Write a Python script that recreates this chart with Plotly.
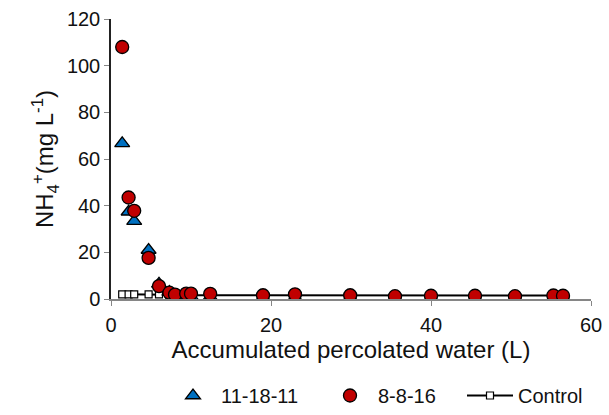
import plotly.graph_objects as go

x_vals = [1.4, 2.2, 2.9, 4.7, 6.0, 7.3, 8.0, 9.4, 10.0, 12.4, 19.0, 23.0, 29.9, 35.5, 40.0, 45.5, 50.5, 55.3, 56.5]
s_111811 = [66.7, 37.4, 33.4, 21.0, 6.5, 3.0, 1.2, 1.0, 1.0, 0.8, 0.6, 0.6, 0.6, 0.5, 0.5, 0.5, 0.5, 0.5, 0.5]
s_8816 = [108.0, 43.5, 37.8, 17.6, 5.5, 2.7, 1.9, 2.3, 2.3, 2.2, 1.6, 2.0, 1.6, 1.2, 1.4, 1.4, 1.2, 1.5, 1.4]
s_control = [2.0, 2.0, 2.0, 2.0, 2.0, 1.8, 1.6, 1.6, 1.6, 1.6, 1.5, 1.5, 1.5, 1.4, 1.5, 1.5, 1.4, 1.5, 1.5]

x_ticks = [0, 20, 40, 60]
y_ticks = [0, 20, 40, 60, 80, 100, 120]

font = "Liberation Sans, Arial, sans-serif"
FS = 20
W, H = 609, 415

fig = go.Figure()
fig.add_trace(go.Scatter(
    x=x_vals, y=s_control, name="Control", mode="lines+markers", legend="legend3",
    line=dict(color="black", width=2),
    marker=dict(symbol="square", size=7, color="white", line=dict(color="black", width=1.2)),
))
fig.add_trace(go.Scatter(
    x=x_vals, y=s_111811, name="11-18-11", mode="markers", legend="legend",
    marker=dict(symbol="triangle-up", size=13, color="#0070C0", line=dict(color="black", width=1.3)),
))
fig.add_trace(go.Scatter(
    x=x_vals, y=s_8816, name="8-8-16", mode="markers", legend="legend2",
    marker=dict(symbol="circle", size=13, color="#C00000", line=dict(color="black", width=1.3)),
))

def leg(xpx):
    return dict(orientation="h", x=xpx / W, xref="container", y=-0.016, yref="container",
                xanchor="left", yanchor="bottom", font=dict(size=FS), itemwidth=46,
                bgcolor="rgba(0,0,0,0)", borderwidth=0, tracegroupgap=0)

fig.update_layout(
    width=W, height=H,
    margin=dict(l=111, r=18, t=19, b=116, autoexpand=False),
    paper_bgcolor="white", plot_bgcolor="white",
    font=dict(family=font, size=FS, color="#111111"),
    showlegend=True,
    legend=leg(165), legend2=leg(322), legend3=leg(462),
    xaxis=dict(range=[0, 60], tickvals=x_ticks, ticks="outside", ticklen=5,
               tickcolor="#868686", showline=True, linecolor="#868686", linewidth=1.5,
               showgrid=False, zeroline=False, ticklabelstandoff=2,
               title=dict(text="Accumulated percolated water (L)", standoff=4)),
    yaxis=dict(range=[0, 120], tickvals=y_ticks, ticks="outside", ticklen=5,
               tickcolor="#868686", showline=True, linecolor="#222222", linewidth=1.5,
               showgrid=False, zeroline=False,
               title=dict(text="NH<sub>4</sub><sup>+</sup>(mg L<sup>-1</sup>)", standoff=6)),
)

fig.write_html("out.html")
